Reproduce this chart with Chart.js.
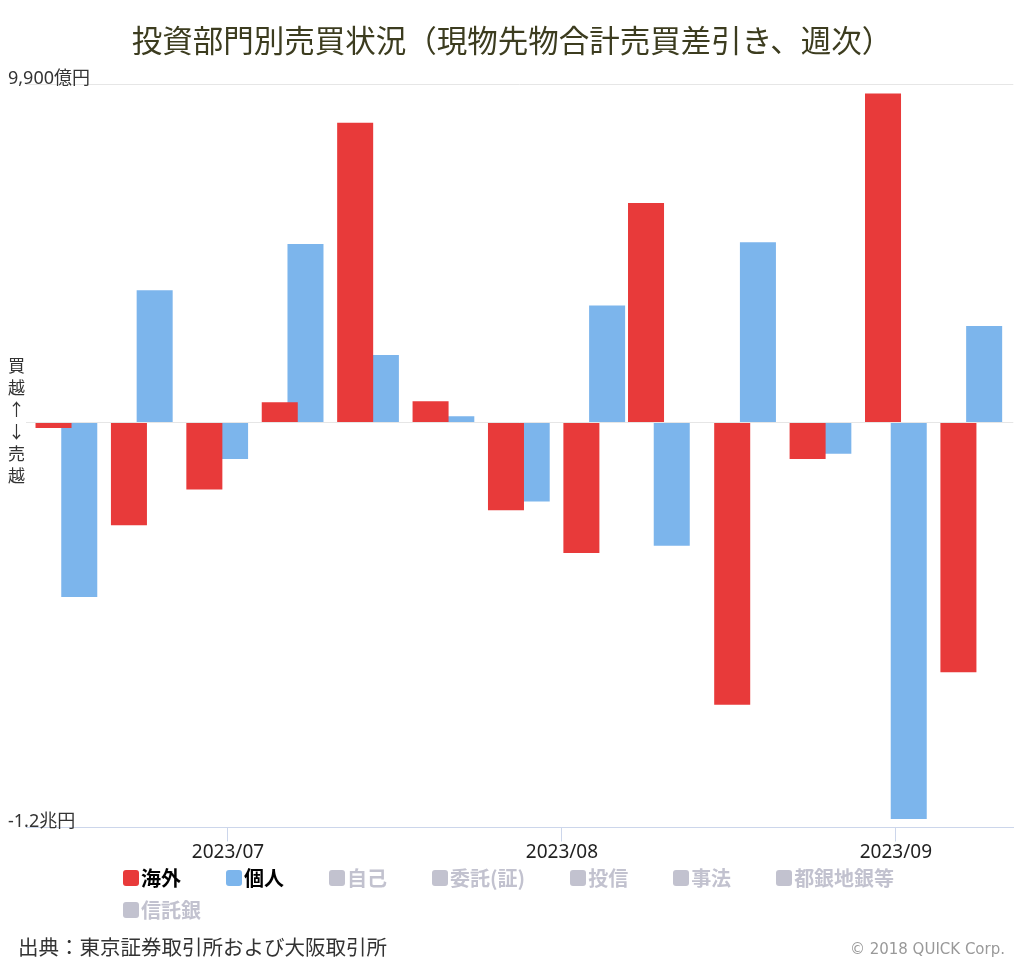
<!DOCTYPE html>
<html lang="ja">
<head>
<meta charset="UTF-8">
<meta name="viewport" content="width=device-width, initial-scale=1.0">
<title>投資部門別売買状況</title>
<script src="https://cdn.jsdelivr.net/npm/chart.js"></script>
<style>
  body { margin: 0; background: #fff; font-family: "Noto Sans CJK JP", sans-serif; }
  .pagina { position: relative; width: 1024px; height: 964px; overflow: hidden; }
  .titulo { position: absolute; top: 20px; left: 0; width: 1024px; text-align: center;
            font-size: 30.5px; line-height: 38px; color: #3c3c1f; }
  .grafico { position: absolute; left: 0; top: 0; width: 1024px; height: 964px; }
  .legenda { position: absolute; left: 123px; top: 862px; width: 830px; }
  .item { display: inline-flex; align-items: center; height: 31.7px; margin-right: 45px;
          font-size: 20px; font-weight: 700; vertical-align: top; }
  .caixa { width: 16px; height: 16px; border-radius: 3px; margin-right: 2px; }
  .fonte { position: absolute; left: 18px; top: 933px; font-size: 20.5px; line-height: 27px; color: #333; }
  .copy { position: absolute; right: 19px; top: 939px; font-family: "DejaVu Sans", sans-serif;
          font-size: 15px; line-height: 20px; color: #999; }
</style>
</head>
<body>
<div class="pagina">
  <div class="grafico"><canvas id="myChart"></canvas></div>
  <div class="titulo">投資部門別売買状況（現物先物合計売買差引き、週次）</div>
  <div class="legenda" id="legenda"></div>
  <div class="fonte">出典：東京証券取引所および大阪取引所</div>
  <div class="copy">© 2018 QUICK Corp.</div>
</div>

<script>
  //週次データ（億円）
  const semanas = ['2023-06-16', '2023-06-23', '2023-06-30', '2023-07-07', '2023-07-14', '2023-07-21',
                   '2023-07-28', '2023-08-04', '2023-08-10', '2023-08-18', '2023-08-25', '2023-09-01', '2023-09-08'];
  const kaigai = [-160, -3010, -1960, 590, 8770, 620, -2570, -3820, 6420, -8260, -1070, 9620, -7310];
  const kojin  = [-5110, 3870, -1070, 5220, 1970, 180, -2310, 3420, -3610, 5270, -920, -11600, 2820];

  const meses = ['2023-07-01', '2023-08-01', '2023-09-01'];
  const rotulosMes = ['2023/07', '2023/08', '2023/09'];

  const eixoY = [-11850, 0, 9900];
  const rotulosY = [['-1.2兆円', ''], ['買', '越', '↑', '↓', '売', '越'], ['9,900億円', '']];

  const series = ['海外', '個人', '自己', '委託(証)', '投信', '事法', '都銀地銀等', '信託銀'];
  const ativas = ['海外', '個人'];
  const cores = ['#e83a3a', '#7cb5ec'];
  const cinza = '#c2c2cf';

  const dia = d => (Date.parse(d) - Date.parse(meses[0])) / 864e5;

  // legenda
  const leg = document.getElementById('legenda');
  series.forEach(nome => {
    const idx = ativas.indexOf(nome);
    const item = document.createElement('span');
    item.className = 'item';
    item.style.color = idx >= 0 ? '#000' : cinza;
    const caixa = document.createElement('span');
    caixa.className = 'caixa';
    caixa.style.background = idx >= 0 ? cores[idx] : cinza;
    item.appendChild(caixa);
    item.appendChild(document.createTextNode(nome));
    leg.appendChild(item);
  });

  Chart.defaults.font.family = '"Noto Sans", "Noto Sans CJK JP", sans-serif';

  const ctx = document.getElementById('myChart');
  new Chart(ctx, {
    type: 'bar',
    data: {
      datasets: [{
        label: ativas[0],
        data: semanas.map((d, i) => ({ x: dia(d), y: kaigai[i] })),
        backgroundColor: cores[0],
        borderWidth: 0
      }, {
        label: ativas[1],
        data: semanas.map((d, i) => ({ x: dia(d), y: kojin[i] })),
        backgroundColor: cores[1],
        borderWidth: 0
      }]
    },
    options: {
      responsive: true,
      maintainAspectRatio: false,
      animation: false,
      categoryPercentage: 0.796,
      barPercentage: 1.4,
      layout: { padding: { top: 84, left: 8, right: 10.7, bottom: 96.5 } },
      plugins: {
        legend: { display: false },
        tooltip: { enabled: false }
      },
      scales: {
        x: {
          type: 'linear',
          offset: false,
          min: dia(semanas[0]) - 3.75,
          max: dia(semanas[semanas.length - 1]) + 3.9,
          afterBuildTicks: s => { s.ticks = meses.map(m => ({ value: dia(m) })); },
          afterFit: s => { s.height = 40; },
          grid: { offset: false, drawOnChartArea: false, tickLength: 14, color: '#ccd6eb' },
          border: { color: '#ccd6eb', width: 1 },
          ticks: {
            autoSkip: false,
            maxRotation: 0,
            padding: 0,
            color: '#222',
            font: { size: 19 },
            callback: (v, i) => rotulosMes[i]
          }
        },
        y: {
          min: eixoY[0],
          max: eixoY[eixoY.length - 1],
          afterBuildTicks: s => { s.ticks = eixoY.map(v => ({ value: v })); },
          afterFit: s => { s.width = 18; },
          border: { display: false },
          grid: {
            drawTicks: false,
            color: c => (c.tick && c.tick.value === eixoY[0]) ? 'rgba(0,0,0,0)' : '#e6e6e6'
          },
          ticks: {
            autoSkip: false,
            mirror: true,
            crossAlign: 'near',
            padding: -18,
            color: '#333',
            font: c => (c.tick && c.tick.value === 0) ? { size: 17, lineHeight: '22px' } : { size: 18, lineHeight: '11px' },
            callback: v => rotulosY[eixoY.indexOf(v)]
          }
        }
      }
    }
  });
</script>
</body>
</html>
